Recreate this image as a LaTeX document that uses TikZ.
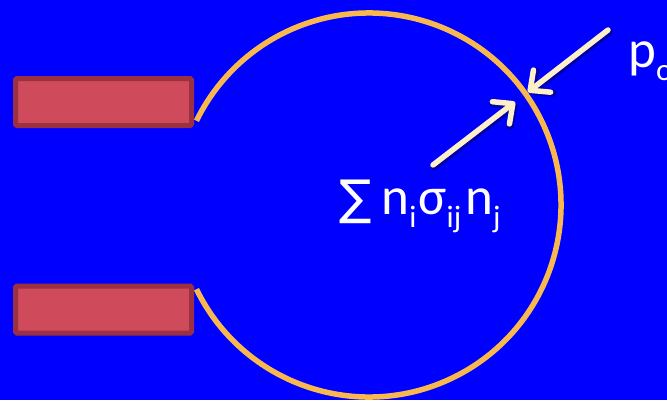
\documentclass[tikz,border=0pt]{standalone}
\usepackage{fontspec}
\setmainfont{Carlito}
\newfontfamily\symfont{DejaVu Sans}
\usetikzlibrary{arrows.meta}
\definecolor{bgblue}{HTML}{0000FF}
\definecolor{rectfill}{HTML}{CF4B5B}
\definecolor{rectedge}{HTML}{9A3040}
\definecolor{ringorange}{HTML}{F8B84E}
\definecolor{cream}{HTML}{FDF0C8}
\definecolor{shade}{HTML}{0000A8}
\tikzset{
  block/.style={draw=rectedge, fill=rectfill, line width=5pt, rounded corners=1.5pt,
    minimum width=176pt, minimum height=47pt, inner sep=0pt},
  ring/.style={draw=ringorange, line width=5.5pt},
  forcearrow/.style={draw=cream, line width=5.5pt, line cap=round,
    -{Straight Barb[length=15pt, width=28pt, line width=5.5pt, round]}},
  forceshadow/.style={draw=shade, line width=7.5pt, line cap=round,
    -{Straight Barb[length=15pt, width=28pt, line width=7.5pt, round]}},
  label/.style={text=white, inner sep=0pt, font=\fontsize{53}{60}\selectfont},
}
\newcommand{\sbs}[1]{\raisebox{-0.25em}{\fontsize{31}{31}\selectfont #1}}
\begin{document}
\begin{tikzpicture}[x=1pt, y=1pt]
\useasboundingbox (0,0) rectangle (667,400);
\fill[bgblue] (0,0) rectangle (667,400);
% rectangles
\node[block] (top) at (103.5,298) {};
\node[block] (bot) at (103.5,90.5) {};
% ring
\coordinate (c) at (369,195);
\draw[ring] ([shift={(-154:192)}]c) arc[start angle=-154, end angle=154, radius=192];
% arrows
\coordinate (oa) at (608,370);
\coordinate (ob) at (528,308);
\coordinate (ia) at (433,235);
\coordinate (ib) at (515,298);
\draw[forceshadow] ([shift={(1.5,-1.5)}]oa) -- ([shift={(1.5,-1.5)}]ob);
\draw[forceshadow] ([shift={(1.5,-1.5)}]ia) -- ([shift={(1.5,-1.5)}]ib);
\draw[forcearrow] (oa) -- (ob);
\draw[forcearrow] (ia) -- (ib);
% labels
\node[label, anchor=base west] (sum) at (339,186)
  {{\symfont\fontsize{48}{52}\selectfont ∑}\kern10pt n\sbs{i}\kern2pt σ\sbs{ij}\kern4pt n\sbs{j}};
\node[label, anchor=base west] (po) at (628,333) {p\sbs{o}};
\end{tikzpicture}
\end{document}
